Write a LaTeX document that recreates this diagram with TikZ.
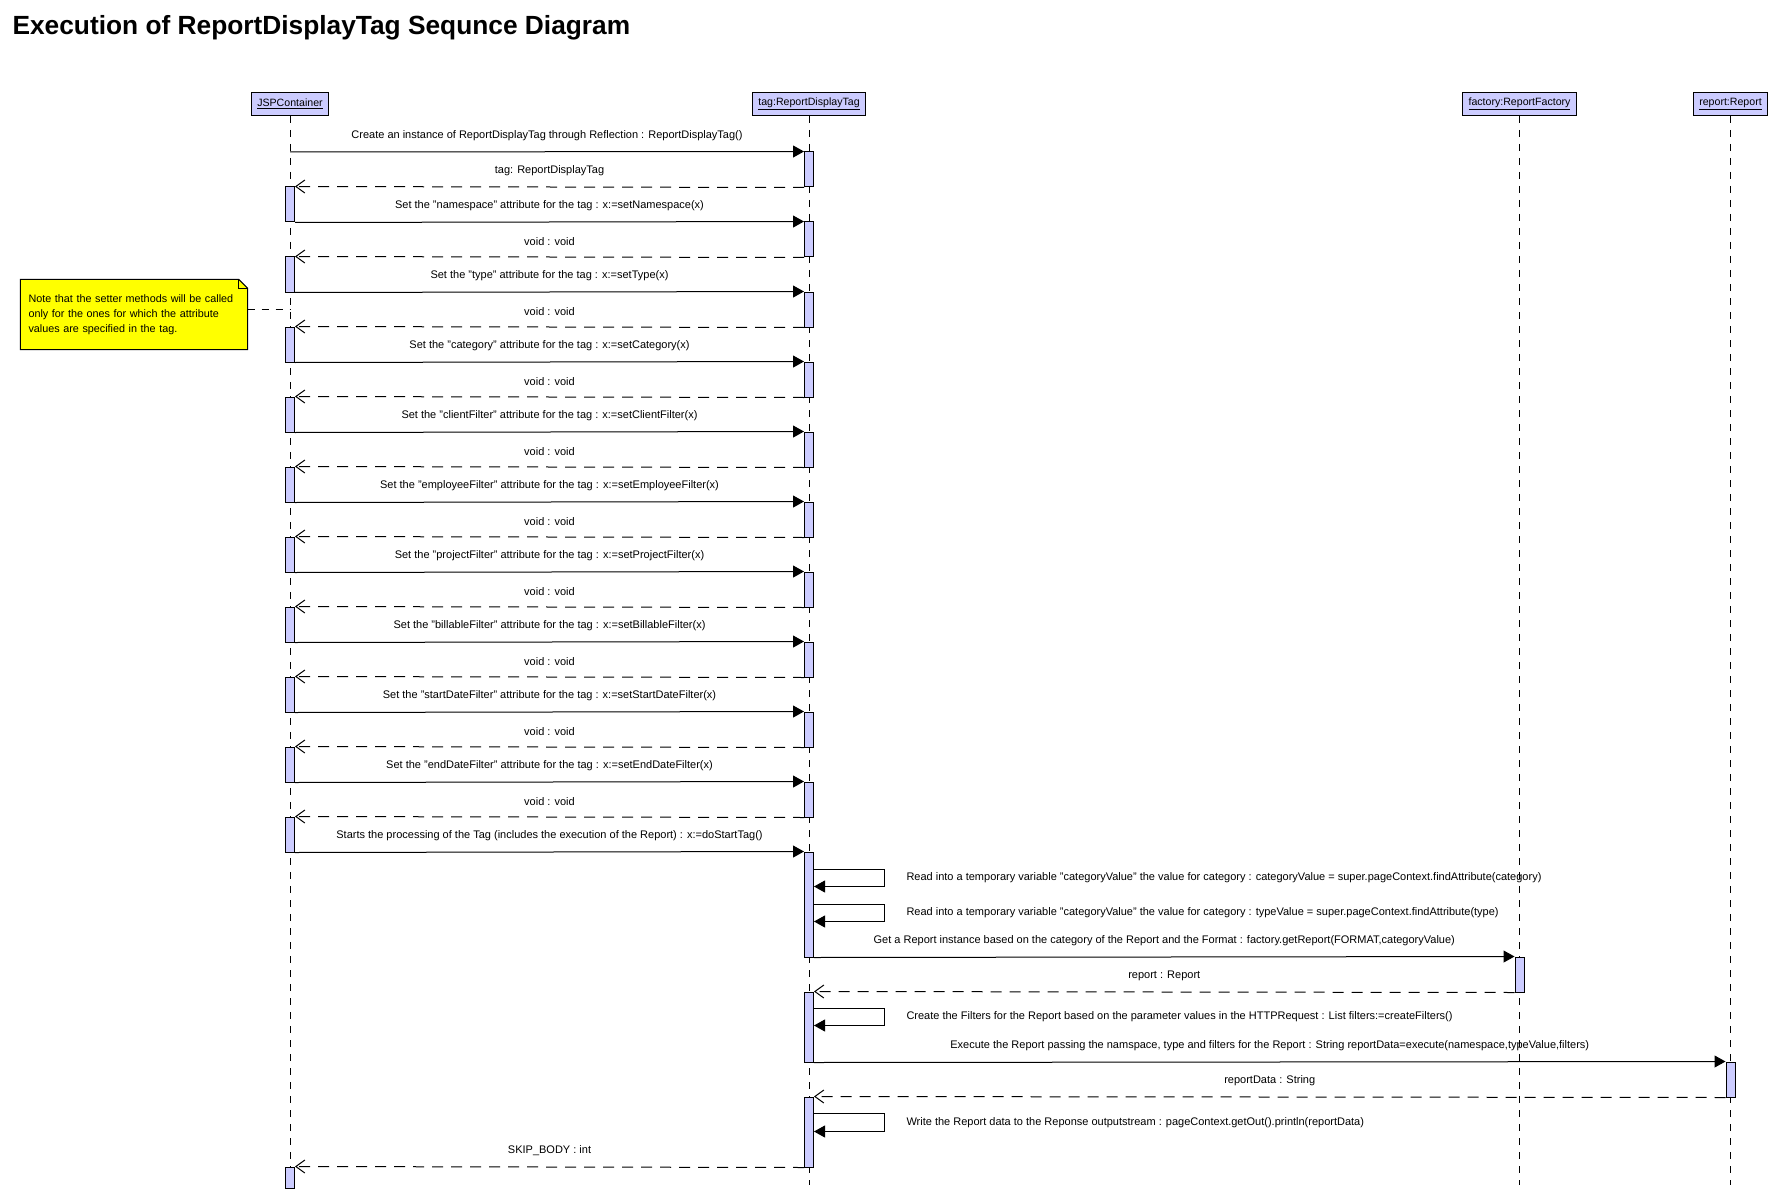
\documentclass[tikz,border=0pt]{standalone}
\usepackage{fontspec}
\setmainfont{Liberation Sans}
\usetikzlibrary{arrows.meta,backgrounds}

\definecolor{lifefill}{RGB}{204,204,255}
\definecolor{notefill}{RGB}{255,255,0}
\newcommand\lblfont{\fontsize{11}{12}\selectfont}
\newcommand\headfont{\fontsize{10.6}{12}\selectfont}

\tikzset{
  head/.style={draw, fill=lifefill, line width=1pt, minimum height=23pt, inner xsep=6pt, inner ysep=0pt, font=\headfont},
  bar/.style={draw, fill=lifefill, line width=1pt, minimum width=9pt, inner sep=0pt},
  lifeline/.style={line width=1pt, dash pattern=on 7pt off 7pt},
  call/.style={line width=1pt, -{Triangle[length=11pt,width=12pt]}},
  ret/.style={line width=1pt, dash pattern=on 11pt off 8pt, -{Straight Barb[length=9pt,width=13pt]}},
  lbl/.style={font=\lblfont, inner sep=0pt},
}

\begin{document}
\begin{tikzpicture}[x=1pt, y=-1pt]

\useasboundingbox (0,0) rectangle (1790,1198);

\node[anchor=west, font=\bfseries\fontsize{26.3}{28}\selectfont] (title) at (9,28) {Execution of ReportDisplayTag Sequnce Diagram};

% objects
\node[head] (jsp) at (290,104) {\underline{JSPContainer}};
\node[head] (tag) at (809,104) {\underline{tag:ReportDisplayTag}};
\node[head] (factory) at (1519.5,104) {\underline{factory:ReportFactory}};
\node[head] (report) at (1730.5,104) {\underline{report:Report}};

\coordinate (jspend) at (290,1185);
\coordinate (tagend) at (809,1185);
\coordinate (factoryend) at (1519.5,1185);
\coordinate (reportend) at (1730.5,1185);

\draw[lifeline] (jsp) -- (jspend);
\draw[lifeline] (tag) -- (tagend);
\draw[lifeline] (factory) -- (factoryend);
\draw[lifeline] (report) -- (reportend);

% note
\node[lbl, align=left, text width=211pt, inner xsep=8pt, minimum width=227pt, minimum height=70pt, font=\fontsize{10.8}{14.8}\selectfont] (note) at (134,314.5)
    {Note that the setter methods will be called\\ only for the ones for which the attribute\\ values are specified in the tag.};
\begin{scope}[on background layer]
\draw[fill=notefill, line width=1pt] (note.north west) -- ([xshift=-9pt]note.north east) -- ([yshift=-9pt]note.north east) -- (note.south east) -- (note.south west) -- cycle;
\draw[line width=1pt] ([xshift=-9pt]note.north east) -- ([xshift=-9pt,yshift=-9pt]note.north east) -- ([yshift=-9pt]note.north east);
\end{scope}
\coordinate (noteend) at (290,309);
\draw[line width=1pt, dash pattern=on 7pt off 7pt] (note.east |- noteend) -- (noteend);

% activation bars
\foreach \k in {0,...,9}{
  \node[bar, minimum height=35pt] (t\k) at (809,{169.5+70*\k}) {};
  \node[bar, minimum height=35pt] (j\k) at (290,{204.5+70*\k}) {};
}
\node[bar, minimum height=105pt] (tb) at (809,904.5) {};
\node[bar, minimum height=35pt] (fb) at (1519.5,974.5) {};
\node[bar, minimum height=70pt] (tb2) at (809,1027) {};
\node[bar, minimum height=35pt] (rb) at (1730.5,1079.5) {};
\node[bar, minimum height=70pt] (tb3) at (809,1132) {};
\node[bar, minimum height=21pt] (jl) at (290,1177.5) {};

% messages
\coordinate (start) at (290,152);
\draw[call] (start) -- (t0.north west) node[lbl, midway, above=10.5pt] {Create an instance of ReportDisplayTag through Reflection : ReportDisplayTag()};

\foreach \k in {0,...,9}{
  \draw[ret] (t\k.south west) -- (j\k.north east) node[lbl, midway, above=10.5pt] {\ifnum\k=0 tag: ReportDisplayTag\else void : void\fi};
}

\foreach \k/\attr/\meth in {1/namespace/Namespace, 2/type/Type, 3/category/Category, 4/clientFilter/ClientFilter, 5/employeeFilter/EmployeeFilter, 6/projectFilter/ProjectFilter, 7/billableFilter/BillableFilter, 8/startDateFilter/StartDateFilter, 9/endDateFilter/EndDateFilter}{
  \pgfmathtruncatemacro\p{\k-1}
  \draw[call] (j\p.south east) -- (t\k.north west) node[lbl, midway, above=10.5pt] {Set the "\attr" attribute for the tag : x:=set\meth(x)};
}

\draw[call] (j9.south east) -- (tb.north west) node[lbl, midway, above=10.5pt] {Starts the processing of the Tag (includes the execution of the Report) : x:=doStartTag()};

\draw[call] ([yshift=-18pt]tb.north east) -- ++(70,0) -- ++(0,17) node[lbl, midway, right=22pt] {Read into a temporary variable "categoryValue" the value for category : categoryValue = super.pageContext.findAttribute(category)} -- ([yshift=-35pt]tb.north east);
\draw[call] ([yshift=-53pt]tb.north east) -- ++(70,0) -- ++(0,17) node[lbl, midway, right=22pt] {Read into a temporary variable "categoryValue" the value for category : typeValue = super.pageContext.findAttribute(type)} -- ([yshift=-70pt]tb.north east);

\draw[call] (tb.south east) -- (fb.north west) node[lbl, midway, above=10.5pt] {Get a Report instance based on the category of the Report and the Format : factory.getReport(FORMAT,categoryValue)};
\draw[ret] (fb.south west) -- (tb2.north east) node[lbl, midway, above=10.5pt] {report : Report};

\draw[call] ([yshift=-17pt]tb2.north east) -- ++(70,0) -- ++(0,17) node[lbl, midway, right=22pt] {Create the Filters for the Report based on the parameter values in the HTTPRequest : List filters:=createFilters()} -- ([yshift=-34pt]tb2.north east);

\draw[call] (tb2.south east) -- (rb.north west) node[lbl, midway, above=10.5pt] {Execute the Report passing the namspace, type and filters for the Report : String reportData=execute(namespace,typeValue,filters)};
\draw[ret] (rb.south west) -- (tb3.north east) node[lbl, midway, above=10.5pt] {reportData : String};

\draw[call] ([yshift=-17pt]tb3.north east) -- ++(70,0) -- ++(0,18) node[lbl, midway, right=22pt] {Write the Report data to the Reponse outputstream : pageContext.getOut().println(reportData)} -- ([yshift=-35pt]tb3.north east);

\draw[ret] (tb3.south west) -- (jl.north east) node[lbl, midway, above=10.5pt] {SKIP\_BODY : int};

\end{tikzpicture}
\end{document}
